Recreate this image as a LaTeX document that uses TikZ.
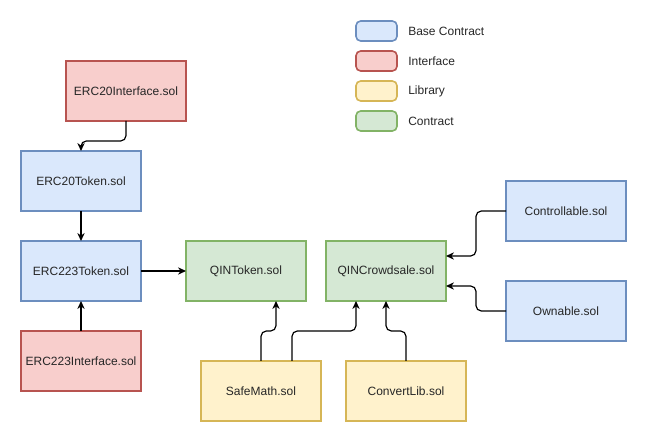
\documentclass[tikz,border=0pt]{standalone}
\usepackage{fontspec}
\setmainfont{Liberation Sans}
\usetikzlibrary{positioning, arrows.meta}

\definecolor{basefill}{HTML}{DAE8FC}
\definecolor{basedraw}{HTML}{6C8EBF}
\definecolor{ifacefill}{HTML}{F8CECC}
\definecolor{ifacedraw}{HTML}{B85450}
\definecolor{libfill}{HTML}{FFF2CC}
\definecolor{libdraw}{HTML}{D6B656}
\definecolor{contractfill}{HTML}{D5E8D4}
\definecolor{contractdraw}{HTML}{82B366}

\begin{document}
\begin{tikzpicture}[
    x=0.75pt, y=0.75pt,
    >=Stealth,
    font=\fontsize{9pt}{11pt}\selectfont,
    % Styles
    sol/.style={
        rectangle,
        minimum height=45pt,
        minimum width=90pt,
        outer sep=0pt,
        draw,
        line width=1.2pt,
        text=black!85
    },
    base/.style={
        sol,
        fill=basefill,
        draw=basedraw
    },
    iface/.style={
        sol,
        fill=ifacefill,
        draw=ifacedraw
    },
    lib/.style={
        sol,
        fill=libfill,
        draw=libdraw
    },
    contract/.style={
        sol,
        fill=contractfill,
        draw=contractdraw
    },
    keybox/.style={
        rectangle,
        rounded corners=3.5pt,
        minimum height=15pt,
        minimum width=30.75pt,
        outer sep=0pt,
        line width=1.2pt
    },
    keytext/.style={
        inner sep=0pt,
        anchor=west,
        text=black!85
    },
    link/.style={
        -{Stealth[length=6pt, width=5.5pt]},
        line width=0.9pt,
        rounded corners=4pt
    }
]
    \useasboundingbox (0,0) rectangle (647,-442);

    % Legend
    \node[keybox, fill=basefill, draw=basedraw] (keybase) at (376.5,-31) {};
    \node[keytext, right=8.25pt of keybase] (keybasetext) {Base Contract};
    \node[keybox, fill=ifacefill, draw=ifacedraw, below=7.5pt of keybase] (keyiface) {};
    \node[keytext, right=8.25pt of keyiface] (keyifacetext) {Interface};
    \node[keybox, fill=libfill, draw=libdraw, below=7.5pt of keyiface] (keylib) {};
    \node[keytext, right=8.25pt of keylib] (keylibtext) {Library};
    \node[keybox, fill=contractfill, draw=contractdraw, below=7.5pt of keylib] (keycontract) {};
    \node[keytext, right=8.25pt of keycontract] (keycontracttext) {Contract};

    % Contracts
    \node[iface] (erc20iface) at (126,-91) {ERC20Interface.sol};
    \node[base] (erc20token) at (81,-181) {ERC20Token.sol};
    \node[base, below=22.5pt of erc20token] (erc223token) {ERC223Token.sol};
    \node[iface, below=22.5pt of erc223token] (erc223iface) {ERC223Interface.sol};
    \node[contract, right=33.75pt of erc223token] (qintoken) {QINToken.sol};
    \node[contract, right=15pt of qintoken] (qincrowd) {QINCrowdsale.sol};
    \node[base] (controllable) at (566,-211) {Controllable.sol};
    \node[base, below=30pt of controllable] (ownable) {Ownable.sol};
    \node[lib] (safemath) at (261,-391) {SafeMath.sol};
    \node[lib, right=18.75pt of safemath] (convertlib) {ConvertLib.sol};

    % Paths
    \draw[link] (erc20iface.south) -- ++(0,-20) -| (erc20token.north);
    \draw[link] (erc20token) -- (erc223token);
    \draw[link] (erc223iface) -- (erc223token);
    \draw[link] (erc223token) -- (qintoken);
    \draw[link] (safemath.north) -- ++(0,30) -| ([xshift=22.5pt]qintoken.south);
    \draw[link] ([xshift=23.25pt]safemath.north) -- ++(0,30) -| ([xshift=-22.5pt]qincrowd.south);
    \draw[link] (convertlib.north) -- ++(0,30) -| (qincrowd.south);
    \draw[link] (controllable.west) -- ++(-30,0) |- ([yshift=11.25pt]qincrowd.east);
    \draw[link] (ownable.west) -- ++(-30,0) |- ([yshift=-11.25pt]qincrowd.east);
\end{tikzpicture}
\end{document}
